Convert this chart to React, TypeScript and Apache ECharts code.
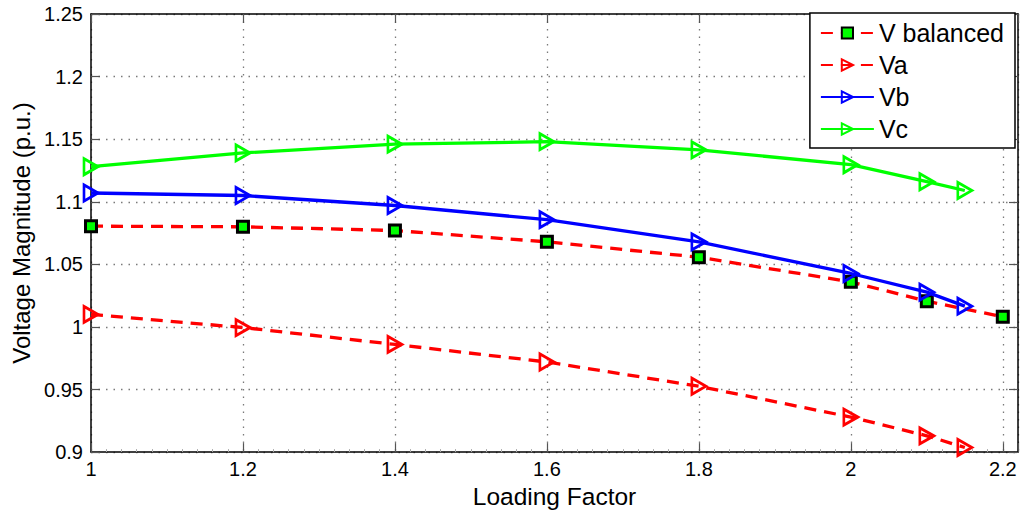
import React, { useEffect, useRef } from "react";
import * as echarts from "echarts";

const loadingFactorABC = [1, 1.2, 1.4, 1.6, 1.8, 2.0, 2.1, 2.15];
const loadingFactorBal = [1, 1.2, 1.4, 1.6, 1.8, 2.0, 2.1, 2.2];
const vBalanced = [1.0805, 1.0800, 1.0770, 1.0680, 1.0557, 1.0360, 1.0206, 1.0081];
const va = [1.0100, 0.9995, 0.9860, 0.9720, 0.9526, 0.9280, 0.9130, 0.9037];
const vb = [1.1070, 1.1050, 1.0970, 1.0857, 1.0680, 1.0427, 1.0278, 1.0166];
const vc = [1.1280, 1.1390, 1.1460, 1.1480, 1.1415, 1.1296, 1.1160, 1.1090];
const xTickLabels = ["1", "1.2", "1.4", "1.6", "1.8", "2", "2.2"];

const FONT = "'Liberation Sans', Arial, Helvetica, sans-serif";

function pairs(xs: number[], ys: number[]) {
  return xs.map((x, i) => [x, ys[i]]);
}

export default function App() {
  const ref = useRef<HTMLDivElement>(null);
  useEffect(() => {
    if (!ref.current) return;
    const chart = echarts.init(ref.current, null, { renderer: "svg" });
    const grid = { left: 91, top: 14, right: 8, bottom: 61 };
    const gridLine = { show: true, lineStyle: { color: "#7a7a7a", width: 1.3, type: [1.5, 6] } };
    const tri = {
      symbol: "triangle",
      symbolSize: [16, 14],
      symbolRotate: -90,
    };
    chart.setOption({
      animation: false,
      backgroundColor: "#fff",
      textStyle: { fontFamily: FONT },
      grid,
      legend: {
        orient: "vertical",
        right: 11,
        top: 13,
        backgroundColor: "#fff",
        borderColor: "#000",
        borderWidth: 1.5,
        borderRadius: 0,
        padding: [7, 11, 6, 10],
        itemWidth: 53,
        itemHeight: 14,
        itemGap: 6,
        textStyle: { fontFamily: FONT, fontSize: 25, color: "#000", lineHeight: 26 },
        data: ["V balanced", "Va", "Vb", "Vc"],
      },
      xAxis: [
        {
          type: "value",
          min: 1,
          max: 2.22,
          interval: 0.2,
          name: "Loading Factor",
          nameLocation: "middle",
          nameGap: 28,
          nameTextStyle: { fontFamily: FONT, fontSize: 24.5, color: "#000" },
          axisLine: { show: true, lineStyle: { color: "#000", width: 1.5 } },
          axisTick: { show: true, inside: true, length: 9, lineStyle: { color: "#555", width: 1.2 } },
          minorTick: { show: true, splitNumber: 10, length: 3, lineStyle: { color: "#aaa" } },
          axisLabel: {
            fontFamily: FONT,
            fontSize: 20,
            color: "#000",
            margin: 7,
            formatter: (v: number) => {
              const s = String(parseFloat(v.toFixed(2)));
              return xTickLabels.includes(s) ? s : "";
            },
          },
          splitLine: gridLine,
        },
        {
          type: "value",
          position: "top",
          min: 1,
          max: 2.22,
          interval: 0.2,
          axisLine: { show: true, lineStyle: { color: "#000", width: 1.5 } },
          axisTick: { show: true, inside: true, length: 9, lineStyle: { color: "#555", width: 1.2 } },
          axisLabel: { show: false },
          splitLine: { show: false },
        },
      ],
      yAxis: [
        {
          type: "value",
          min: 0.9,
          max: 1.25,
          interval: 0.05,
          name: "Voltage Magnitude (p.u.)",
          nameLocation: "middle",
          nameGap: 58,
          nameTextStyle: { fontFamily: FONT, fontSize: 24, color: "#000" },
          axisLine: { show: true, lineStyle: { color: "#000", width: 1.5 } },
          axisTick: { show: true, inside: true, length: 9, lineStyle: { color: "#555", width: 1.2 } },
          axisLabel: { fontFamily: FONT, fontSize: 20, color: "#000", margin: 8 },
          splitLine: gridLine,
        },
        {
          type: "value",
          position: "right",
          min: 0.9,
          max: 1.25,
          interval: 0.05,
          axisLine: { show: true, lineStyle: { color: "#000", width: 1.5 } },
          axisTick: { show: true, inside: true, length: 9, lineStyle: { color: "#555", width: 1.2 } },
          axisLabel: { show: false },
          splitLine: { show: false },
        },
      ],
      series: [
        {
          name: "V balanced",
          type: "line",
          data: pairs(loadingFactorBal, vBalanced),
          symbol: "rect",
          symbolSize: 11,
          showAllSymbol: true,
          lineStyle: { color: "#ff0000", width: 3.3, type: [12, 8] },
          itemStyle: { color: "#00ff00", borderColor: "#000", borderWidth: 3 },
          z: 2,
        },
        {
          name: "Va",
          type: "line",
          data: pairs(loadingFactorABC, va),
          ...tri,
          showAllSymbol: true,
          lineStyle: { color: "#ff0000", width: 3.3, type: [12, 8] },
          itemStyle: { color: "rgba(255,255,255,0)", borderColor: "#ff0000", borderWidth: 2.8 },
          z: 3,
        },
        {
          name: "Vb",
          type: "line",
          data: pairs(loadingFactorABC, vb),
          ...tri,
          showAllSymbol: true,
          lineStyle: { color: "#0000ff", width: 3.3 },
          itemStyle: { color: "rgba(255,255,255,0)", borderColor: "#0000ff", borderWidth: 2.8 },
          z: 4,
        },
        {
          name: "Vc",
          type: "line",
          data: pairs(loadingFactorABC, vc),
          ...tri,
          showAllSymbol: true,
          lineStyle: { color: "#00ff00", width: 3.3 },
          itemStyle: { color: "rgba(255,255,255,0)", borderColor: "#00ff00", borderWidth: 2.8 },
          z: 5,
        },
      ],
    });
    return () => chart.dispose();
  }, []);
  return <div ref={ref} style={{ width: 1026, height: 514, position: "absolute", left: 0, top: 0 }} />;
}
